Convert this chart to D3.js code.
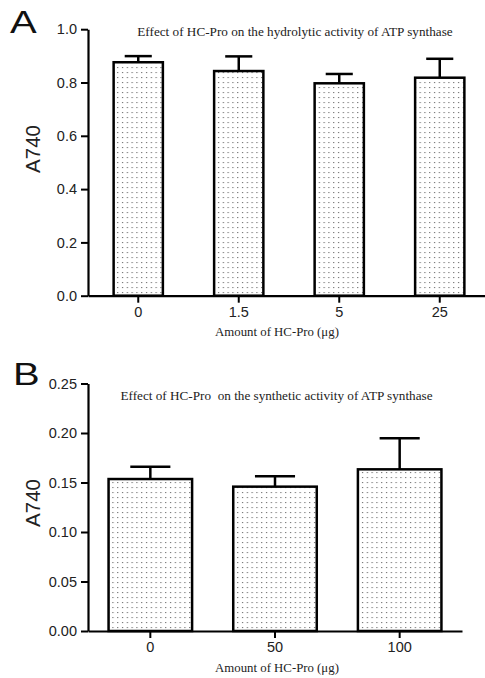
<!DOCTYPE html>
<html>
<head>
<meta charset="utf-8">
<script src="https://cdnjs.cloudflare.com/ajax/libs/d3/7.8.5/d3.min.js"></script>
<style>
  body { margin: 0; background: #fff; }
  svg { display: block; }
</style>
</head>
<body>
<div id="chart"></div>
<script>
// Panel A: hydrolytic activity
const catsA = ["0", "1.5", "5", "25"];
const meansA = [0.876, 0.843, 0.797, 0.818];
const errA = [0.023, 0.055, 0.035, 0.071];
const ticksA = [0, 0.2, 0.4, 0.6, 0.8, 1.0];

// Panel B: synthetic activity
const catsB = ["0", "50", "100"];
const meansB = [0.1535, 0.1458, 0.1633];
const errB = [0.0125, 0.0105, 0.0313];
const ticksB = [0, 0.05, 0.10, 0.15, 0.20, 0.25];

const svg = d3.select("#chart")
    .append("svg")
    .attr("width", 485)
    .attr("height", 678);

// dotted fill used by every bar
const pat = svg.append("defs").append("pattern")
    .attr("id", "dots")
    .attr("patternUnits", "userSpaceOnUse")
    .attr("width", 4.8)
    .attr("height", 5);
pat.append("rect").attr("width", 4.8).attr("height", 5).attr("fill", "#fff");
pat.append("rect").attr("x", 2).attr("y", 2).attr("width", 1.1).attr("height", 1.1).attr("fill", "#666");

function drawPanel(p) {
    const g = svg.append("g");

    const x = d3.scaleBand()
        .domain(p.cats)
        .range(p.xRange)
        .paddingInner(p.pad)
        .paddingOuter(p.pad / 2);

    const y = d3.scaleLinear()
        .domain([0, p.yMax])
        .range(p.yRange);

    const rows = p.cats.map((c, i) => ({cat: c, mean: p.means[i], err: p.errs[i]}));

    // error bars (drawn first so the bar outline covers the stem base)
    const capW = x.bandwidth() * p.cap;
    g.selectAll(".stem")
        .data(rows)
        .enter().append("line")
        .attr("x1", d => x(d.cat) + x.bandwidth() / 2)
        .attr("x2", d => x(d.cat) + x.bandwidth() / 2)
        .attr("y1", d => y(d.mean))
        .attr("y2", d => y(d.mean + d.err))
        .attr("stroke", "#000")
        .attr("stroke-width", 2.5);

    g.selectAll(".cap")
        .data(rows)
        .enter().append("line")
        .attr("x1", d => x(d.cat) + x.bandwidth() / 2 - capW / 2)
        .attr("x2", d => x(d.cat) + x.bandwidth() / 2 + capW / 2)
        .attr("y1", d => y(d.mean + d.err))
        .attr("y2", d => y(d.mean + d.err))
        .attr("stroke", "#000")
        .attr("stroke-width", 2.5);

    // bars
    g.selectAll(".bar")
        .data(rows)
        .enter().append("rect")
        .attr("x", d => x(d.cat))
        .attr("y", d => y(d.mean))
        .attr("width", x.bandwidth())
        .attr("height", d => y(0) - y(d.mean))
        .attr("fill", "url(#dots)")
        .attr("stroke", "#000")
        .attr("stroke-width", 2.5);

    // y axis
    const yAxis = g.append("g")
        .attr("transform", `translate(${p.xRange[0]},0)`)
        .call(d3.axisLeft(y).tickValues(p.ticks).tickFormat(d3.format(p.fmt))
            .tickSize(7).tickSizeOuter(0).tickPadding(4));

    // x axis
    const xAxis = g.append("g")
        .attr("transform", `translate(0,${p.yRange[0]})`)
        .call(d3.axisBottom(x).tickSize(7).tickSizeOuter(0).tickPadding(4));

    [yAxis, xAxis].forEach(a => {
        a.select(".domain").attr("stroke-width", 2.2);
        a.selectAll(".tick line").attr("stroke-width", 2);
        a.selectAll("text")
            .attr("font-family", "Liberation Sans, Arial, sans-serif")
            .attr("font-size", 14.5)
            .attr("fill", "#222");
    });

    // y axis title
    g.append("text")
        .attr("transform", `translate(${p.yLabelX},${p.yLabelY}) rotate(-90)`)
        .attr("text-anchor", "middle")
        .attr("font-family", "Liberation Sans, Arial, sans-serif")
        .attr("font-size", 20.5)
        .attr("fill", "#222")
        .text("A740");

    // x axis title
    g.append("text")
        .attr("x", 277)
        .attr("y", p.xLabelY)
        .attr("text-anchor", "middle")
        .attr("font-family", "Liberation Serif, Times New Roman, serif")
        .attr("font-size", 12.8)
        .attr("fill", "#222")
        .text("Amount of HC-Pro (\u03bcg)");

    // chart title
    g.append("text")
        .attr("x", p.titleX)
        .attr("y", p.titleY)
        .attr("text-anchor", "middle")
        .attr("font-family", "Liberation Serif, Times New Roman, serif")
        .attr("font-size", 13.2)
        .attr("fill", "#222")
        .style("white-space", "pre")
        .text(p.title);

    // panel letter
    g.append("text")
        .attr("transform", `translate(${p.letterX},${p.letterY}) scale(1.25,1)`)
        .attr("font-family", "Liberation Sans, Arial, sans-serif")
        .attr("font-size", 32)
        .attr("fill", "#111")
        .text(p.letter);
}

drawPanel({
    cats: catsA, means: meansA, errs: errA, ticks: ticksA,
    yMax: 1.0, fmt: ".1f",
    xRange: [88, 490], yRange: [295.7, 29.2], pad: 0.51, cap: 0.55,
    yLabelX: 40, yLabelY: 149, xLabelY: 336,
    title: "Effect of HC-Pro on the hydrolytic activity of ATP synthase",
    titleX: 295, titleY: 36,
    letter: "A", letterX: 10, letterY: 33
});

drawPanel({
    cats: catsB, means: meansB, errs: errB, ticks: ticksB,
    yMax: 0.25, fmt: ".2f",
    xRange: [88, 462], yRange: [631, 383.5], pad: 0.33, cap: 0.48,
    yLabelX: 40, yLabelY: 503, xLabelY: 672,
    title: "Effect of HC-Pro  on the synthetic activity of ATP synthase",
    titleX: 276.5, titleY: 400,
    letter: "B", letterX: 13, letterY: 385
});
</script>
</body>
</html>
